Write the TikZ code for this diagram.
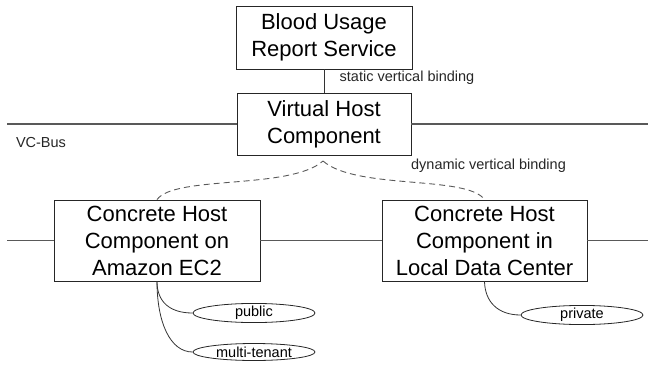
\documentclass[tikz,border=0pt]{standalone}
\usepackage{fontspec}
\setmainfont{Liberation Sans}
\usetikzlibrary{shapes.geometric}
\begin{document}
\begin{tikzpicture}[x=1pt,y=1pt,
  box/.style={draw=black!85, line width=0.9pt, rectangle, inner sep=0pt, align=center,
    font=\fontsize{22}{27}\selectfont},
  tag/.style={draw=black!85, line width=0.8pt, ellipse, inner sep=0pt,
    minimum width=122pt, minimum height=17pt, font=\fontsize{14.5}{17}\selectfont},
  lbl/.style={inner sep=0pt, font=\fontsize{14.5}{17}\selectfont, text=black!85},
  bus/.style={draw=black!65, line width=1.1pt},
  link/.style={draw=black!80, line width=0.8pt},
  dyn/.style={draw=black!65, line width=0.9pt, dash pattern=on 6pt off 4pt}]
\useasboundingbox (0,0) rectangle (648,-367);

\node[box, minimum width=176pt, minimum height=63pt] (B1) at (324,-37.5) {Blood Usage\\Report Service};
\node[box, minimum width=174pt, minimum height=62pt] (VH) at (324,-124) {Virtual Host\\Component};
\node[box, minimum width=206pt, minimum height=81pt] (C1) at (157,-240.5) {Concrete Host\\Component on\\Amazon EC2};
\node[box, minimum width=205pt, minimum height=81pt] (C2) at (484.5,-240.5) {Concrete Host\\Component in\\Local Data Center};

\node[tag] (pub) at (254,-313) {public};
\node[tag] (mt) at (254,-352) {multi-tenant};
\node[tag, minimum height=16pt] (priv) at (582,-315) {private};

\node[lbl] (slab) at (407,-78) {static vertical binding};
\node[lbl] (dlab) at (488.5,-166) {dynamic vertical binding};
\node[lbl] (vcb) at (41,-143) {VC-Bus};

\coordinate (busL) at (7,-124);
\coordinate (busR) at (648,-124);
\coordinate (busL2) at (7,-240.5);
\coordinate (busR2) at (648,-240.5);
\coordinate (apex) at (323,-161);

\draw[bus] (busL) -- (VH.west);
\draw[bus] (VH.east) -- (busR);
\draw[bus] (busL2) -- (C1.west);
\draw[bus] (C1.east) -- (C2.west);
\draw[bus] (C2.east) -- (busR2);

\draw[link] (B1.south) -- (VH.north);

\draw[dyn] (C1.north) .. controls (175,-175) and (290,-190) .. (apex);
\draw[dyn] (apex) .. controls (356,-190) and (467,-175) .. (C2.north);

\draw[link] (C1.south) .. controls (157,-302) and (170,-313) .. (pub.west);
\draw[link] (C1.south) .. controls (157,-322) and (170,-352) .. (mt.west);
\draw[link] (C2.south) .. controls (485,-302) and (498,-315) .. (priv.west);
\end{tikzpicture}
\end{document}
